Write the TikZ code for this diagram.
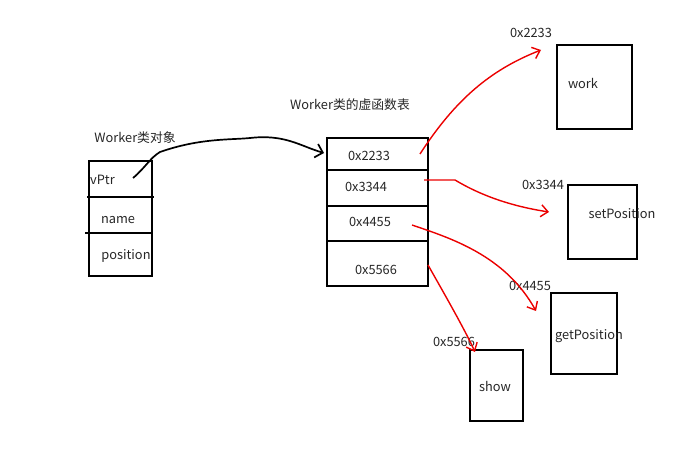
\documentclass[tikz,border=0pt]{standalone}
\usepackage{fontspec}
\setmainfont{Noto Sans CJK SC}
\usetikzlibrary{arrows.meta}
\begin{document}
\begin{tikzpicture}[x=1pt,y=-1pt,
  box/.style={draw=black,line width=2.4pt,anchor=north west,inner sep=0pt},
  sep/.style={draw=black,line width=2.4pt},
  lbl/.style={font=\fontsize{12.8}{15}\selectfont,text=black!85,inner sep=1pt},
  redarrow/.style={draw=red!92!black,line width=1.4pt,-{Straight Barb[length=7pt,width=12pt,line width=1.4pt]}},
  blackarrow/.style={draw=black,line width=1.7pt,-{Straight Barb[length=7pt,width=14pt,line width=1.7pt]}}]
\useasboundingbox (0,0) rectangle (698,449);
% object
\node[box,minimum width=63pt,minimum height=115pt] (obj) at (88,160) {};
\draw[sep] (87,197) -- (154,197);
\draw[sep] (85,233) -- (151,233);
\node[lbl,anchor=west] (vptr) at (89,180) {vPtr};
\node[lbl] (name) at (118,220) {name};
\node[lbl] (pos) at (126,256) {position};
\node[lbl] (objt) at (135,138) {Worker类对象};
% table
\node[box,minimum width=101pt,minimum height=148pt] (tab) at (326,137) {};
\draw[sep] (326,170) -- (429,170);
\draw[sep] (326,206) -- (429,206);
\draw[sep] (326,241) -- (427,241);
\node[lbl] (t1) at (369,156) {0x2233};
\node[lbl] (t2) at (366,187) {0x3344};
\node[lbl] (t3) at (370,222) {0x4455};
\node[lbl] (t4) at (376,270) {0x5566};
\node[lbl] (tabt) at (350,105) {Worker类的虚函数表};
% function boxes
\node[box,minimum width=75pt,minimum height=84pt] (work) at (556,44) {};
\node[lbl] (workt) at (583,83) {work};
\node[lbl] (workl) at (531,33) {0x2233};
\node[box,minimum width=69pt,minimum height=74pt] (setp) at (567,184) {};
\node[lbl] (setpt) at (622,214) {setPosition};
\node[lbl] (setpl) at (543,185) {0x3344};
\node[box,minimum width=66pt,minimum height=81pt] (getp) at (550,292) {};
\node[lbl] (getpt) at (589,336) {getPosition};
\node[lbl] (getpl) at (530,286) {0x4455};
\node[box,minimum width=53pt,minimum height=71pt] (show) at (469,349) {};
\node[lbl] (showt) at (495,386) {show};
\node[lbl] (showl) at (454,342) {0x5566};
% connectors
\coordinate (a0) at (133,178);
\coordinate (a1) at (324,153);
\draw[blackarrow] (a0) .. controls (145,168) and (150,158) .. (160,152) .. controls (200,138) and (230,140) .. (250,138) .. controls (285,134) and (300,146) .. (a1);
\coordinate (r1s) at (420,154);
\coordinate (r1e) at (541,50);
\draw[redarrow] (r1s) .. controls (455,100) and (490,70) .. (r1e);
\coordinate (r2s) at (424,180);
\coordinate (r2e) at (549,212);
\draw[redarrow] (r2s) -- (455,180) .. controls (480,195) and (510,206) .. (r2e);
\coordinate (r3s) at (412,225);
\coordinate (r3e) at (536,311);
\draw[redarrow] (r3s) .. controls (450,238) and (505,255) .. (r3e);
\coordinate (r4s) at (428,265);
\coordinate (r4e) at (475,352);
\draw[redarrow] (r4s) .. controls (445,295) and (465,330) .. (r4e);
\end{tikzpicture}
\end{document}
